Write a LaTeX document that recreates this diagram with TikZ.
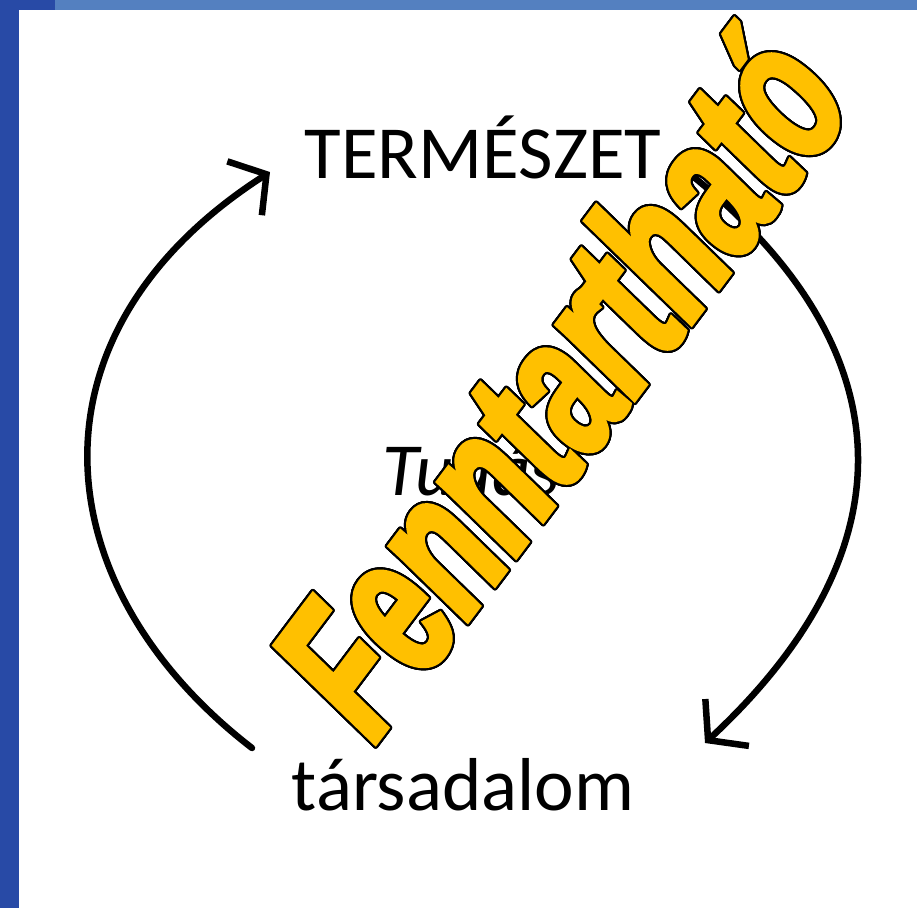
\documentclass[tikz,border=0pt]{standalone}
\usepackage{fontspec}
\setmainfont{Carlito}
\newfontfamily\wordartfont[FakeStretch=0.65,FakeBold=2.5]{Liberation Sans}
\usepackage[copies]{contour}
\contourlength{2.2pt}
\contournumber{24}
\usetikzlibrary{arrows.meta}

\definecolor{framedark}{RGB}{40,74,166}
\definecolor{framelight}{RGB}{84,128,192}
\definecolor{wordgold}{RGB}{255,192,0}

\begin{document}
\begin{tikzpicture}[
x=1pt, y=-1pt,
>={Straight Barb[length=26pt,width=64pt,line width=6.5pt]},
concept/.style={inner sep=0pt, anchor=base, font=\fontsize{75}{80}\selectfont},
cyclearrow/.style={->, line width=6.5pt, line cap=round},
wordart/.style={inner sep=0pt, rotate=53, text=wordgold, font=\wordartfont\bfseries\itshape\fontsize{202}{210}\selectfont}
]

% frame
\fill[white] (0,0) rectangle (917,908);
\fill[framelight] (0,0) rectangle (917,10);
\fill[framedark] (0,0) rectangle (19,908);
\fill[framedark] (19,0) rectangle (55,10);
\useasboundingbox (0,0) rectangle (917,908);

\node[concept] (termeszet) at (483,178) {TERMÉSZET};
\node[concept] (tudas) at (471,495) {\itshape Tudás};
\node[concept] (tarsadalom) at (463,810) {társadalom};

% cycle arrows
\coordinate (leftstart) at (252,748);
\coordinate (lefttip) at (270,172);
\coordinate (rightstart) at (695,178);
\coordinate (righttip) at (705,743);
\draw[cyclearrow] (leftstart) .. controls (42,586) and (19,333) .. (lefttip);
\draw[cyclearrow] (rightstart) .. controls (902,347) and (917,546) .. (righttip);

\node[wordart] (fenntarthato) at (558,381) {\contour{black}{Fenntartható}};

\end{tikzpicture}
\end{document}
